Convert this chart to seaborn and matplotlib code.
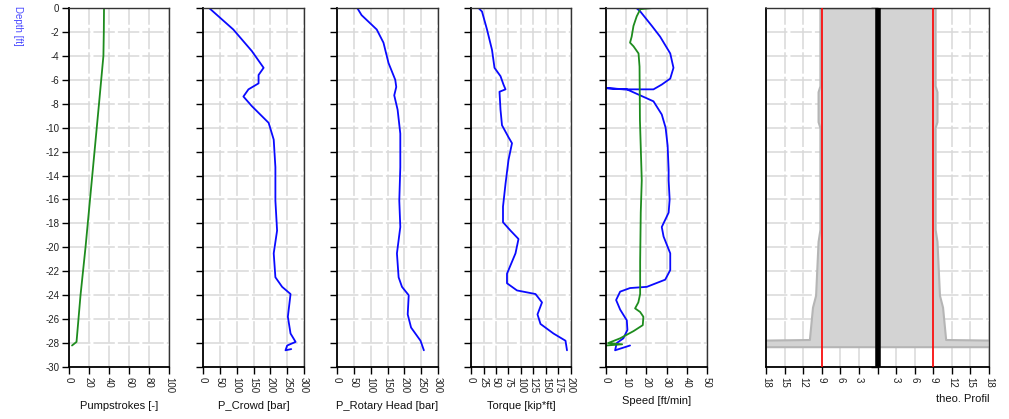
import numpy as np
import pandas as pd
import matplotlib
matplotlib.use("Agg")
import matplotlib.pyplot as plt
import seaborn as sns

# ---------------- data ----------------
pump_depth = [0, -2, -4, -8, -12, -16, -20, -24, -27.9, -28.2]
pump_vals = [35, 34.8, 34.4, 30, 25.5, 21, 16.5, 11.5, 7.5, 3]

crowd_depth = [0, -1.8, -3.6, -5.0, -5.6, -6.3, -6.8, -7.4, -8.2, -9.6, -11.0, -13.3,
               -16.1, -18.6, -20.5, -22.5, -23.3, -23.9, -25.8, -27.2, -27.9, -28.2,
               -28.6, -28.5]
crowd_vals = [18, 90, 145, 180, 165, 165, 135, 120, 145, 195, 210, 215,
              215, 220, 210, 215, 235, 260, 252, 260, 275, 250, 245, 262]

rotary_depth = [0, -0.6, -1.8, -2.9, -4.6, -6.0, -6.6, -7.3, -8.5, -10.5, -13.3, -16.1,
                -18.3, -20.5, -22.5, -23.3, -24.0, -25.6, -26.7, -27.8, -28.6]
rotary_vals = [60, 73, 118, 138, 153, 173, 176, 170, 180, 188, 188, 185,
               188, 178, 183, 193, 213, 210, 220, 248, 258]

torque_depth = [0, -0.3, -1.8, -3.5, -5.0, -5.7, -6.4, -6.8, -7.0, -8.5, -9.8, -10.8,
                -11.3, -12.7, -14.7, -16.6, -17.9, -18.6, -19.3, -20.5, -22.2, -23.0,
                -23.6, -23.9, -24.6, -25.6, -26.4, -27.2, -27.8, -28.6]
torque_vals = [15, 22, 32, 42, 47, 59, 65, 69, 57, 59, 62, 75,
               82, 75, 69, 64, 64, 79, 95, 89, 72, 72,
               92, 129, 142, 133, 139, 165, 189, 192]

speed_blue_depth = [0, 0, -0.3, -1.5, -2.4, -3.8, -5.0, -5.9, -6.4, -6.8, -6.8, -6.7,
                    -6.8, -7.3, -7.8, -8.9, -10.0, -11.5, -13.5, -14.4, -16.0, -17.1,
                    -18.3, -19.1, -20.5, -21.9, -22.7, -23.3, -23.4, -23.7, -24.4,
                    -25.2, -26.1, -26.9, -27.6, -28.0, -28.6, -28.2]
speed_blue_vals = [50, 15, 17, 22.7, 26.8, 31.8, 33.4, 31.8, 27.6, 23.5, 8.6, 0,
                   10.3, 16.9, 23.5, 27.6, 29.5, 30.5, 31, 31, 31.5, 31,
                   27.6, 28.5, 31.8, 31.8, 29.3, 20.2, 11.9, 7, 5,
                   7, 10.3, 10.6, 8.6, 5.3, 4.5, 11.9]

speed_green_depth = [0, 0, -0.1, -0.7, -1.5, -2.4, -2.9, -3.2, -3.8, -4.9, -9.4, -14.4,
                     -17.1, -21.2, -23.9, -24.6, -25.1, -25.4, -25.8, -26.5, -27.0,
                     -27.6, -28.0, -28.1, -28.2]
speed_green_vals = [0, 23.5, 17, 15.2, 13.6, 12.7, 11.9, 13.6, 16.1, 16.6, 16.8, 17.7,
                    17.2, 16.9, 16.9, 16, 14.4, 16.9, 18.5, 18.2, 13.6,
                    7, 1, 8, 0]

profile_depth = [0, -6.5, -7.0, -9.5, -10.0, -18.5, -19.5, -24.0, -25.0, -27.7, -27.75, -28.3]
profile_radius = [9.3, 9.3, 9.6, 9.6, 9.3, 9.3, 9.6, 10.0, 10.5, 11.0, 18.5, 18.5]
theo_radius = 9

x_labels = ["Pumpstrokes [-]", "P_Crowd [bar]", "P_Rotary Head [bar]",
            "Torque [kip*ft]", "Speed [ft/min]", "theo. Profil"]
x_ticks = [list(range(0, 101, 20)), list(range(0, 301, 50)), list(range(0, 301, 50)),
           list(range(0, 201, 25)), list(range(0, 51, 10)), list(range(-18, 19, 3))]
profile_ticklabels = ["18", "15", "12", "9", "6", "3", "", "3", "6", "9", "12", "15", "18"]
depth_ticks = list(range(-30, 1, 2))

# ---------------- style ----------------
sns.set_theme(style="white")
plt.rcParams["font.family"] = ["Liberation Sans", "DejaVu Sans"]
plt.rcParams["axes.unicode_minus"] = False

BLUE = "#0a0aff"
GREEN = "#1e8c1e"
GRID = "#d9d9d9"

fig = plt.figure(figsize=(10.09, 4.19), dpi=100)
lefts = [0.0684, 0.2012, 0.3340, 0.4668, 0.6006, 0.7592]
widths = [0.0991, 0.1001, 0.1001, 0.0991, 0.1001, 0.2210]
bottom, height = 0.124, 0.857
axes = [fig.add_axes([l, bottom, w, height]) for l, w in zip(lefts, widths)]


def style_axis(ax, ticks, label, i):
    ax.set_ylim(-30, 0)
    ax.set_xlim(ticks[0], ticks[-1])
    ax.set_xticks(ticks)
    ax.set_yticks(depth_ticks)
    ax.set_axisbelow(True)
    ax.grid(True, color=GRID, lw=1.1, ls=(0, (14, 2)))
    ax.tick_params(axis="both", direction="out", length=5, width=1, color="black",
                   labelsize=7, bottom=True, left=True, pad=2, labelcolor="#222222")
    ax.tick_params(axis="x", labelrotation=-90)
    for s in ["left", "bottom"]:
        ax.spines[s].set_color("black")
        ax.spines[s].set_linewidth(1.3)
    for s in ["top", "right"]:
        ax.spines[s].set_color("#333333")
        ax.spines[s].set_linewidth(1.0)
    ax.set_xlabel(label, fontsize=8, labelpad=6, color="#111111")
    ax.set_ylabel("")
    if i != 0:
        ax.set_yticklabels([])


series = [
    [(pump_vals, pump_depth, GREEN)],
    [(crowd_vals, crowd_depth, BLUE)],
    [(rotary_vals, rotary_depth, BLUE)],
    [(torque_vals, torque_depth, BLUE)],
    [(speed_blue_vals, speed_blue_depth, BLUE), (speed_green_vals, speed_green_depth, GREEN)],
]

for i, ax in enumerate(axes[:5]):
    for vals, dep, col in series[i]:
        df = pd.DataFrame({"x": vals, "depth": dep})
        sns.lineplot(data=df, x="x", y="depth", sort=False, estimator=None,
                     orient="y", color=col, lw=1.3, ax=ax)
    style_axis(ax, x_ticks[i], x_labels[i], i)

# theoretical profile panel
ax6 = axes[5]
pdf = pd.DataFrame({"depth": profile_depth, "r": profile_radius})
ax6.fill_betweenx(pdf["depth"], -pdf["r"], pdf["r"], color="#d3d3d3",
                  edgecolor="#b5b5b5", lw=1.5, zorder=1)
ax6.axvline(-theo_radius, color="#ff0000", lw=1.2, zorder=3)
ax6.axvline(theo_radius, color="#ff0000", lw=1.2, zorder=3)
style_axis(ax6, x_ticks[5], x_labels[5], 5)
ax6.set_xticklabels(profile_ticklabels)
ax6.set_yticklabels([])
ax6.xaxis.set_label_coords(1.0, -0.075)
ax6.xaxis.label.set_horizontalalignment("right")
ax6.spines["left"].set_position(("data", 0))
ax6.spines["left"].set_linewidth(4)
ax6.spines["left"].set_capstyle("butt")
ax6.spines["left"].set_zorder(4)
ax6.plot([0, 0], [0, 1], transform=ax6.transAxes, color="black", lw=1.3, clip_on=False)

fig.text(0.018, 0.985, "Depth [ft]", rotation=270, va="top", ha="center",
         color="#4a4aff", fontsize=7)

fig.savefig("out.png", dpi=100)
